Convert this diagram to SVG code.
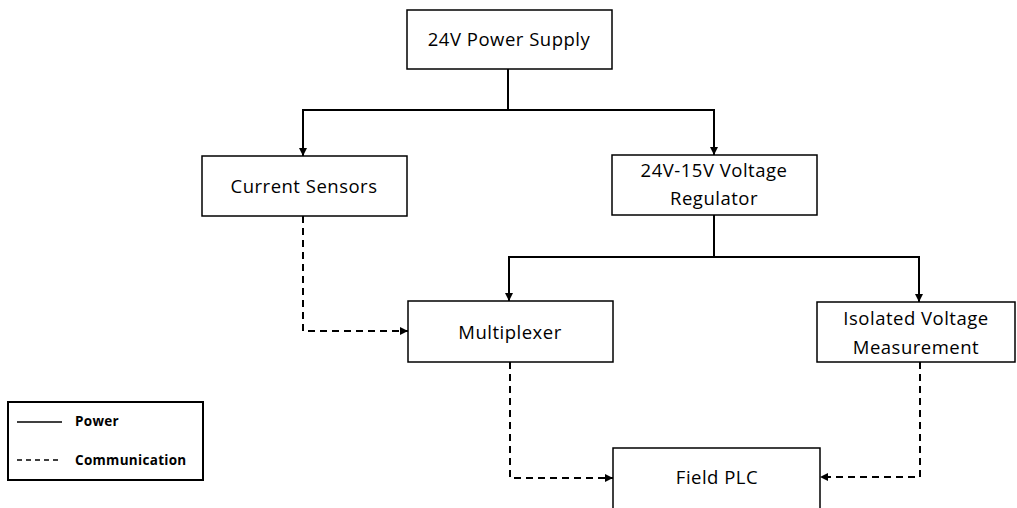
<svg xmlns="http://www.w3.org/2000/svg" width="1017" height="508" viewBox="0 0 1017 508">
<defs>
<style>
.box{fill:#fff;stroke:#000;stroke-width:1.5}
.lbl{font-family:"Open Sans","Liberation Sans",sans-serif;font-size:18.5px;letter-spacing:0.5px;fill:#000;text-anchor:middle}
.pw{fill:none;stroke:#000;stroke-width:2}
.cm{fill:none;stroke:#000;stroke-width:2;stroke-dasharray:7,5}
.leg{font-family:"Open Sans","Liberation Sans",sans-serif;font-size:13.5px;font-weight:bold;letter-spacing:0.3px;fill:#000}
</style>
<marker id="ah" viewBox="0 0 10 10" refX="10" refY="5" markerWidth="4" markerHeight="4" orient="auto" markerUnits="strokeWidth">
<path d="M0,0 L10,5 L0,10 z" fill="#000"/>
</marker>
</defs>
<rect width="1017" height="508" fill="#fff"/>
<g id="connectors">
<path class="pw" d="M508,69 V110 H303 V156" marker-end="url(#ah)"/>
<path class="pw" d="M508,110 H714 V155" marker-end="url(#ah)"/>
<path class="pw" d="M714,215 V257 H509 V301" marker-end="url(#ah)"/>
<path class="pw" d="M714,257 H919 V302" marker-end="url(#ah)"/>
<path class="cm" d="M303,216 V331 H408" marker-end="url(#ah)"/>
<path class="cm" d="M510,362 V478 H613" marker-end="url(#ah)"/>
<path class="cm" d="M920,362 V477 H820" marker-end="url(#ah)"/>
</g>
<g id="power-supply">
<rect class="box" x="407" y="10" width="205" height="59"/>
<text class="lbl" x="509" y="46">24V Power Supply</text>
</g>
<g id="current-sensors">
<rect class="box" x="202" y="156" width="205" height="60"/>
<text class="lbl" x="304" y="193">Current Sensors</text>
</g>
<g id="regulator">
<rect class="box" x="612" y="155" width="205" height="60"/>
<text class="lbl" x="714" y="177">24V-15V Voltage</text>
<text class="lbl" x="714" y="205">Regulator</text>
</g>
<g id="multiplexer">
<rect class="box" x="408" y="301" width="205" height="61"/>
<text class="lbl" x="510" y="339">Multiplexer</text>
</g>
<g id="isolated-measurement">
<rect class="box" x="817" y="302" width="198" height="60"/>
<text class="lbl" x="916" y="325">Isolated Voltage</text>
<text class="lbl" x="916" y="354">Measurement</text>
</g>
<g id="field-plc">
<rect class="box" x="613" y="448" width="207" height="70"/>
<text class="lbl" x="717" y="484">Field PLC</text>
</g>
<g id="legend">
<rect x="8" y="402" width="195" height="78" fill="#fff" stroke="#000" stroke-width="2"/>
<line x1="17" y1="422" x2="62" y2="422" stroke="#000" stroke-width="1.5"/>
<line x1="17" y1="460" x2="62" y2="460" stroke="#000" stroke-width="1.5" stroke-dasharray="5,4"/>
<text class="leg" x="75" y="426">Power</text>
<text class="leg" x="75" y="465">Communication</text>
</g>
</svg>
